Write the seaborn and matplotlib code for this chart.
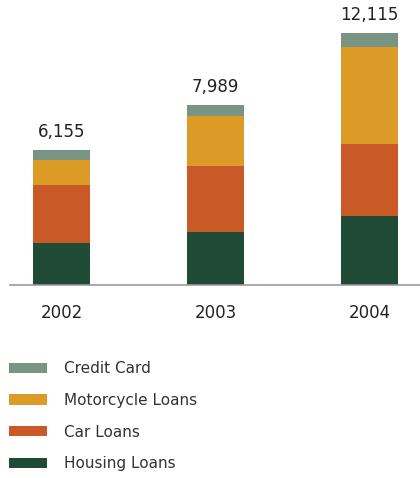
import numpy as np
import pandas as pd
import seaborn as sns
import matplotlib
matplotlib.use("Agg")
import matplotlib.pyplot as plt
from matplotlib.patches import Patch

years = ["2002", "2003", "2004"]
housing = [1950, 2430, 3205]
car = [2695, 3065, 3300]
moto = [1115, 2335, 4505]
credit = [510, 500, 650]
totals = [6155, 7989, 12115]
series_names = ["Credit Card", "Motorcycle Loans", "Car Loans", "Housing Loans"]
colors = {"Credit Card": "#7a9483", "Motorcycle Loans": "#dc9b26",
          "Car Loans": "#c95a27", "Housing Loans": "#1f4a36"}

sns.set_style("white")
plt.rcParams['font.family'] = ['DejaVu Sans']

fig = plt.figure(figsize=(4.2, 4.78), dpi=100)
W, H = 420, 478
base_px = 284.5
ax = fig.add_axes([10 / W, (H - base_px) / H, 410 / W, base_px / H])

df = pd.DataFrame({"year": years, "Housing Loans": housing, "Car Loans": car,
                   "Motorcycle Loans": moto, "Credit Card": credit})
stack_order = ["Housing Loans", "Car Loans", "Motorcycle Loans", "Credit Card"]
cum = df[stack_order].cumsum(axis=1)

# draw from tallest cumulative to shortest so lower segments overlay
for name in reversed(stack_order):
    sns.barplot(data=pd.DataFrame({"year": years, "v": cum[name]}), x="year", y="v",
                color=colors[name], width=0.37, saturation=1, ax=ax, linewidth=0)

scale = 46.45
ax.set_ylim(0, base_px * scale)
ax.set_xlim(-0.334, 2.328)

tops = cum["Credit Card"].values
for i, (t, lab) in enumerate(zip(tops, totals)):
    ax.text(i, t + 18 * scale, f"{lab:,}", ha="center", va="center",
            fontsize=12, color="#222222")

for s in ["top", "right", "left"]:
    ax.spines[s].set_visible(False)
ax.spines["bottom"].set_color("#999999")
ax.spines["bottom"].set_linewidth(1.2)
ax.set_yticks([])
ax.set_ylabel("")
ax.set_xlabel("")
ax.tick_params(axis="x", length=0, pad=14, labelsize=12, labelcolor="#222222")

handles = [Patch(facecolor=colors[n], edgecolor="none") for n in series_names]
fig.legend(handles, series_names, loc="upper left", bbox_to_anchor=(9 / W, 1 - 361 / H),
           frameon=False, fontsize=11, handlelength=2.5, handleheight=0.65,
           handletextpad=1.1, labelspacing=1.1, labelcolor="#333333",
           borderaxespad=0, borderpad=0)

fig.savefig("out.png", dpi=100)
